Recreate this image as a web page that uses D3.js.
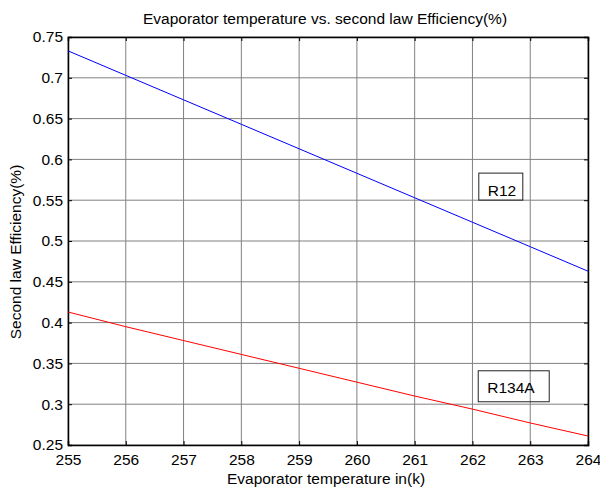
<!DOCTYPE html>
<html><head><meta charset="utf-8">
<script src="https://cdn.jsdelivr.net/npm/d3@7"></script>
<style>body{margin:0;background:#fff}svg{display:block;font-family:"Liberation Sans",Arial,sans-serif}</style>
</head><body><svg id="c" width="600" height="487"></svg>
<script>
const temps = [255,256,257,258,259,260,261,262,263,264];
const r12 = [0.733,0.703,0.673,0.643,0.613,0.583,0.553,0.523,0.493,0.463];
const r134a = [0.413,0.395,0.378,0.361,0.344,0.327,0.310,0.294,0.277,0.261];
const xTicks = [255,256,257,258,259,260,261,262,263,264];
const yTicks = [0.25,0.3,0.35,0.4,0.45,0.5,0.55,0.6,0.65,0.7,0.75];
const titleText = "Evaporator temperature vs. second law Efficiency(%)";
const xLabel = "Evaporator temperature in(k)";
const yLabel = "Second law Efficiency(%)";
const labels = [{text:"R12", x:262.11, y:0.555},{text:"R134A", x:262.10, y:0.314}];

const L=68,R=588,T=37,B=445;
const svg=d3.select("#c");
const x=d3.scaleLinear().domain([255,264]).range([L,R]);
const y=d3.scaleLinear().domain([0.25,0.75]).range([B,T]);
const fs=15.5;

// grid
svg.append("g").selectAll("line").data(xTicks).join("line")
 .attr("x1",d=>x(d)).attr("x2",d=>x(d)).attr("y1",T).attr("y2",B)
 .attr("stroke","#808080").attr("stroke-width",1);
svg.append("g").selectAll("line").data(yTicks).join("line")
 .attr("y1",d=>y(d)).attr("y2",d=>y(d)).attr("x1",L).attr("x2",R)
 .attr("stroke","#808080").attr("stroke-width",1);

// axes
const tk=-4;
const gx=svg.append("g").attr("transform",`translate(0,${B})`)
 .call(d3.axisBottom(x).tickValues(xTicks).tickSize(tk).tickPadding(9).tickFormat(d3.format("d")));
const gxt=svg.append("g").attr("transform",`translate(0,${T})`)
 .call(d3.axisTop(x).tickValues(xTicks).tickSize(tk).tickFormat(""));
const gy=svg.append("g").attr("transform",`translate(${L},0)`)
 .call(d3.axisLeft(y).tickValues(yTicks).tickSize(tk).tickPadding(5).tickFormat(d=>String(+d.toFixed(2))));
const gyr=svg.append("g").attr("transform",`translate(${R},0)`)
 .call(d3.axisRight(y).tickValues(yTicks).tickSize(tk).tickFormat(""));
[gx,gxt,gy,gyr].forEach(g=>{
 g.select(".domain").attr("stroke","#000").attr("stroke-width",1.5);
 g.selectAll(".tick line").attr("stroke","#000");
 g.selectAll("text").attr("font-size",fs).attr("font-family","Liberation Sans, Arial, sans-serif").attr("fill","#000");
});

// lines
const line=d3.line().x((d,i)=>x(temps[i])).y(d=>y(d));
svg.append("path").datum(r12).attr("d",line).attr("fill","none").attr("stroke","#0000ff").attr("stroke-width",1);
svg.append("path").datum(r134a).attr("d",line).attr("fill","none").attr("stroke","#ff0000").attr("stroke-width",1);

// text boxes (anchored at box left / text baseline)
const boxStyle = {"R12":{w:44,h:27,top:23},"R134A":{w:71,h:31,top:22}};
labels.forEach(l=>{
 const bx=x(l.x), ty=y(l.y), s=boxStyle[l.text];
 const g=svg.append("g");
 g.append("rect").attr("x",bx).attr("y",ty-s.top).attr("width",s.w).attr("height",s.h)
  .attr("fill","none").attr("stroke","#222").attr("stroke-width",1);
 g.append("text").attr("x",bx+9).attr("y",ty).attr("font-size",fs).text(l.text);
});

// titles
svg.append("text").attr("x",325).attr("y",24).attr("text-anchor","middle").attr("font-size",fs).text(titleText);
svg.append("text").attr("x",326).attr("y",484).attr("text-anchor","middle").attr("font-size",fs).text(xLabel);
svg.append("text").attr("transform",`translate(21,252) rotate(-90)`).attr("text-anchor","middle").attr("font-size",fs).text(yLabel);
</script></body></html>
